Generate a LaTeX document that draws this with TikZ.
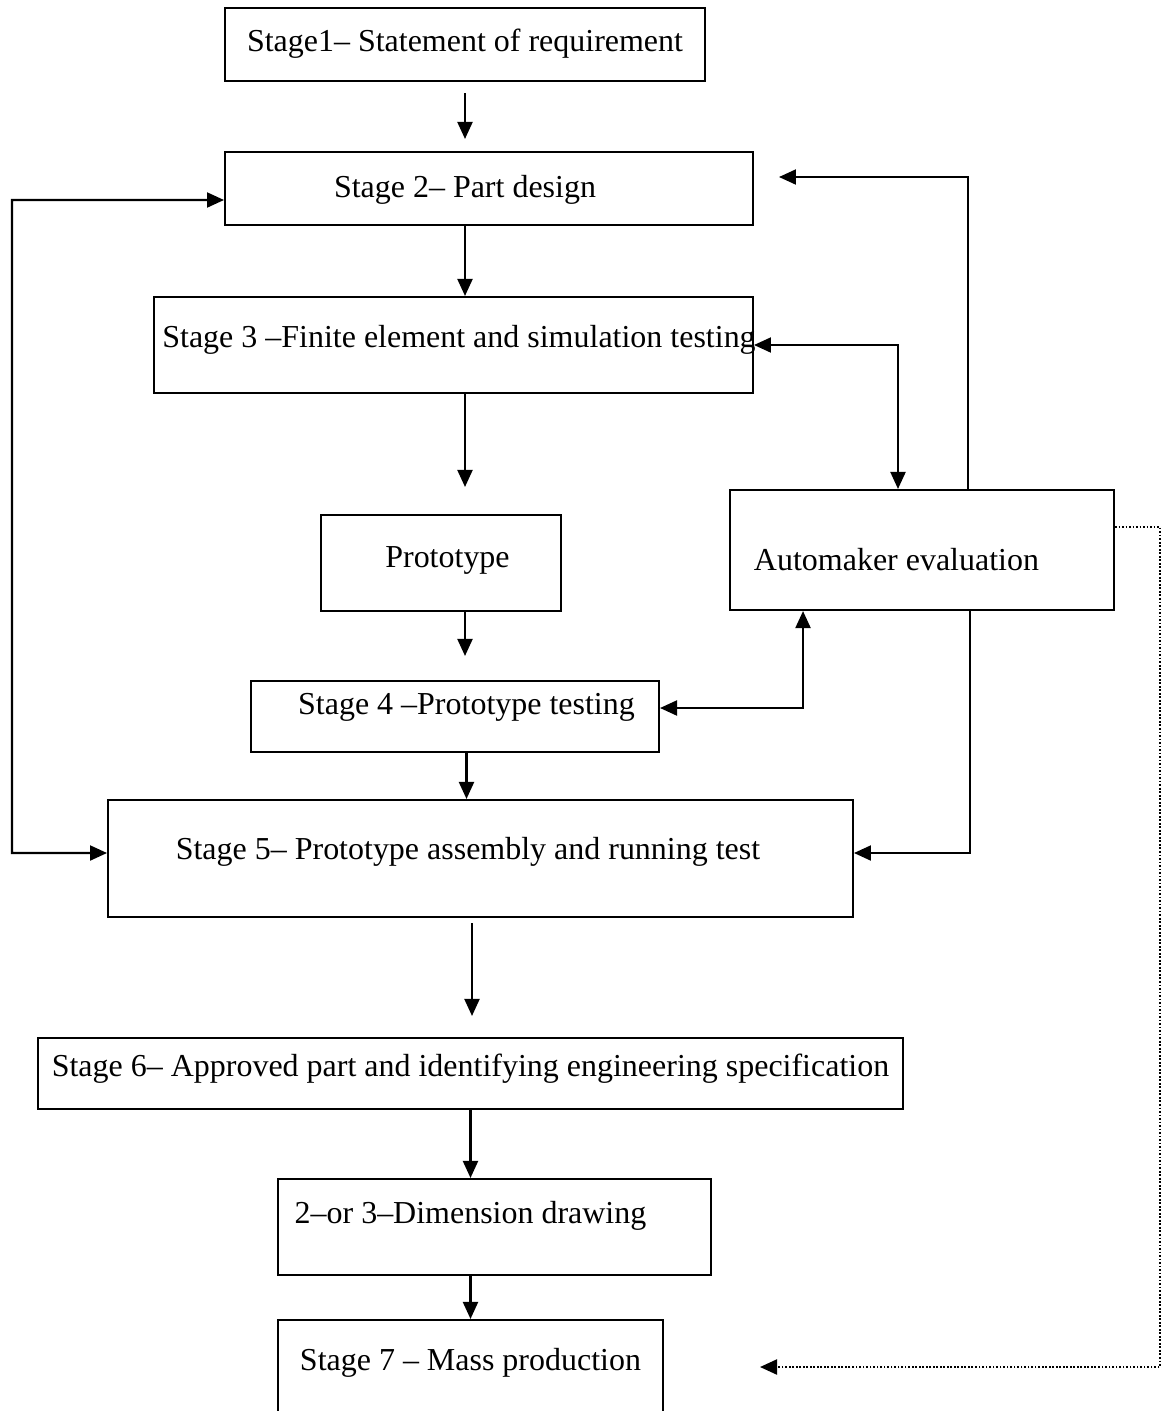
\documentclass[tikz,border=0pt]{standalone}
\usepackage{fontspec}
\setmainfont{Liberation Serif}
\usetikzlibrary{arrows.meta}
\begin{document}
\begin{tikzpicture}[x=0.02cm, y=-0.02cm,
		box/.style = {draw, line width=1.2pt, inner sep=0pt},
		lbl/.style = {inner sep=0pt, font=\fontsize{18.2}{21}\selectfont},
		arr/.style = {line width=1.2pt, -{Triangle[length=0.34cm, width=0.3cm]}},
		dbl/.style = {line width=1.2pt, {Triangle[length=0.34cm, width=0.3cm]}-{Triangle[length=0.34cm, width=0.3cm]}},
		dotarr/.style = {line width=1.2pt, dash pattern=on 1pt off 1pt, -{Triangle[length=0.34cm, width=0.3cm]}}]
		
		\useasboundingbox (0,0) rectangle (1173,1411);
		\clip (0,0) rectangle (1173,1411);
		
		% boxes
		\node[box, minimum width=9.6cm, minimum height=1.46cm] (s1) at (465,44.5) {};
		\node[box, minimum width=10.56cm, minimum height=1.46cm] (s2) at (489,188.5) {};
		\node[box, minimum width=11.98cm, minimum height=1.92cm] (s3) at (453.5,345) {};
		\node[box, minimum width=4.8cm, minimum height=1.92cm] (pro) at (441,563) {};
		\node[box, minimum width=7.68cm, minimum height=2.4cm] (auto) at (922,550) {};
		\node[box, minimum width=8.16cm, minimum height=1.42cm] (s4) at (455,716.5) {};
		\node[box, minimum width=14.9cm, minimum height=2.34cm] (s5) at (480.5,858.5) {};
		\node[box, minimum width=17.3cm, minimum height=1.42cm] (s6) at (470.5,1073.5) {};
		\node[box, minimum width=8.66cm, minimum height=1.92cm] (dim) at (494.5,1227) {};
		\node[box, minimum width=7.7cm, minimum height=2cm] (s7) at (470.5,1370) {};
		
		% texts
		\node[lbl] (t1) at (465,44) {Stage1– Statement of requirement};
		\node[lbl] (t2) at (465,190) {Stage 2– Part design};
		\node[lbl] (t3) at (459,340) {Stage 3 –Finite element and simulation testing};
		\node[lbl] (tp) at (447.5,560) {Prototype};
		\node[lbl] (ta) at (896.5,560) {Automaker evaluation};
		\node[lbl] (t4) at (466.5,707) {Stage 4 –Prototype testing};
		\node[lbl] (t5) at (468,852) {Stage 5– Prototype assembly and running test};
		\node[lbl] (t6) at (470.5,1069) {Stage 6– Approved part and identifying engineering specification};
		\node[lbl] (td) at (470.5,1216) {2–or 3–Dimension drawing};
		\node[lbl] (t7) at (470.5,1363) {Stage 7 – Mass production};
		
		\coordinate (lcorner) at (12,853);
		\coordinate (dcorner) at (1160,1367);
		\coordinate (mpend) at (760,1367);
		
		% main line
		\draw[arr, shorten <=0.22cm, shorten >=0.24cm] (s1.south) -- (s1.south |- s2.north);
		\draw[arr] (s1.south |- s2.south) -- (s1.south |- s3.north);
		\draw[arr, shorten >=0.54cm] (s1.south |- s3.south) -- (s1.south |- pro.north);
		\draw[arr, shorten >=0.48cm] (s1.south |- pro.south) -- (s1.south |- s4.north);
		\draw[arr] (t4.south |- s4.south) -- (t4.south |- s5.north);
		\draw[arr, shorten <=0.1cm, shorten >=0.42cm] ([xshift=0.03cm]s6.north |- s5.south) -- ([xshift=0.03cm]s6.north);
		\draw[arr] (s6.south) -- (s6.south |- dim.north);
		\draw[arr] (s6.south |- dim.south) -- (s7.north);
		
		% feedback loops
		\draw[dbl] ([yshift=-0.23cm]s2.west) -| (lcorner) -- ([yshift=0.11cm]s5.west);
		\draw[arr, shorten >=0.5cm] ([xshift=0.92cm]auto.north) |- ([yshift=0.23cm]s2.east);
		\draw[arr] ([xshift=0.96cm]auto.south) |- ([yshift=0.11cm]s5.east);
		\draw[dbl] (s3.east) -| ([xshift=-0.48cm]auto.north);
		\draw[dbl] ([yshift=0.17cm]s4.east) -| ([xshift=-2.38cm]auto.south);
		\draw[dotarr] ([yshift=0.46cm]auto.east) -| (dcorner) -- (mpend);
		
\end{tikzpicture}
\end{document}
